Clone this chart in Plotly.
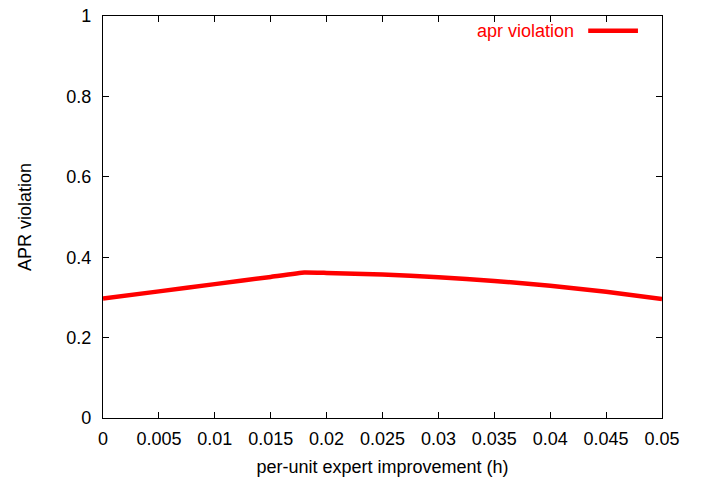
import plotly.graph_objects as go

# data
improvement = [0.0, 0.005, 0.010, 0.015, 0.018, 0.020, 0.025, 0.030, 0.035, 0.040, 0.045, 0.050]
apr_violation = [0.297, 0.315, 0.333, 0.351, 0.362, 0.361, 0.357, 0.350, 0.341, 0.329, 0.314, 0.296]

x_ticks = [0, 0.005, 0.01, 0.015, 0.02, 0.025, 0.03, 0.035, 0.04, 0.045, 0.05]
x_tick_labels = ["0", "0.005", "0.01", "0.015", "0.02", "0.025", "0.03", "0.035", "0.04", "0.045", "0.05"]
y_ticks = [0, 0.2, 0.4, 0.6, 0.8, 1]
y_tick_labels = ["0", "0.2", "0.4", "0.6", "0.8", "1"]

font = "Liberation Sans, Arial, Helvetica, sans-serif"
fs = 18

fig = go.Figure()
fig.add_trace(go.Scatter(x=improvement, y=apr_violation, mode="lines",
                         line=dict(color="#ff0000", width=4.5, shape="spline", smoothing=0.3),
                         name="apr violation", showlegend=False))

axis_common = dict(showgrid=False, zeroline=False, showline=True, linecolor="black",
                   linewidth=1.2, ticks="inside", ticklen=6, tickcolor="black",
                   mirror="allticks", automargin=False,
                   tickfont=dict(family=font, size=fs, color="black"))

fig.update_layout(
    width=701, height=479,
    margin=dict(l=103, r=39, t=16, b=61),
    paper_bgcolor="white", plot_bgcolor="white",
    xaxis=dict(range=[0, 0.05], tickvals=x_ticks, ticktext=x_tick_labels, ticklabelstandoff=4,
               title=dict(text="per-unit expert improvement (h)", font=dict(family=font, size=fs, color="black"), standoff=12),
               **axis_common),
    yaxis=dict(range=[0, 1], tickvals=y_ticks, ticktext=y_tick_labels, ticklabelstandoff=7,
               title=dict(text="APR violation", font=dict(family=font, size=fs, color="black"), standoff=29),
               **axis_common),
)

# gnuplot-style key: text then line sample
fig.add_annotation(xref="paper", yref="paper", x=0.847, y=0.963, xanchor="right", yanchor="middle",
                   text="apr violation", showarrow=False,
                   font=dict(family=font, size=fs, color="#ff0000"))
fig.add_shape(type="line", xref="paper", yref="paper", x0=0.868, x1=0.957, y0=0.963, y1=0.963,
              line=dict(color="#ff0000", width=4.5))

fig.write_html("out.html")
